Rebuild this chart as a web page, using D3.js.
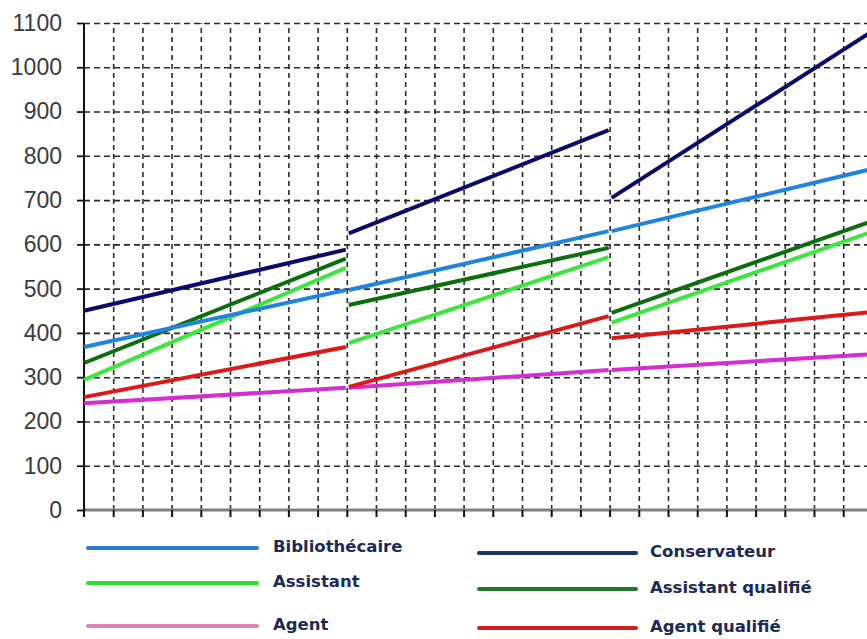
<!DOCTYPE html>
<html>
<head>
<meta charset="utf-8">
<script src="https://cdn.jsdelivr.net/npm/d3@7"></script>
<style>
  body { margin: 0; background: #fff; }
</style>
</head>
<body>
<div id="Canvas"></div>
<script>
// series names (chart order, drawn bottom to top)
const series = ["Agent", "Agent qualifié", "Assistant", "Assistant qualifié", "Bibliothécaire", "Conservateur"]
// three periods: break points on the x scale
const periods = [[0, 9], [9, 18], [18, 27]]
// value at start / end of each period, one row per series
const agentVals = [[241, 276], [276, 316], [316, 352]]
const agentQualVals = [[255, 368], [278, 438], [388, 447]]
const assistantVals = [[294, 547], [377, 571], [423, 628]]
const assistantQualVals = [[332, 568], [463, 592], [445, 652]]
const biblioVals = [[368, 497], [497, 630], [630, 770]]
const conservVals = [[450, 588], [625, 858], [705, 1080]]
const allVals = [agentVals, agentQualVals, assistantVals, assistantQualVals, biblioVals, conservVals]
const lineColors = ["#d22ed2", "#dc1818", "#3ce63c", "#0d6e10", "#1e84de", "#0b0b6a"]

// y tick labels
const yTicks = d3.range(0, 1101, 100)
const xGridTicks = d3.range(1, 28)

// legend (two columns)
const legendLeft = ["Bibliothécaire", "Assistant", "Agent"]
const legendRight = ["Conservateur", "Assistant qualifié", "Agent qualifié"]
const legendLeftColors = ["#2a7ad2", "#30dc30", "#e084b8"]
const legendRightColors = ["#1b3566", "#22782a", "#cc2020"]

let svg = d3.select("#Canvas")
    .append("svg")
    .attr("width", 867)
    .attr("height", 639)

let xScale = d3.scaleLinear()
    .domain([0, 27])
    .range([84, 872.4])
let yScale = d3.scaleLinear()
    .domain([0, 1100])
    .range([510, 23])

// 虛線格線 - horizontal
svg.append("g")
    .attr("transform", "translate(84,0)")
    .call(d3.axisLeft(yScale).tickValues(yTicks.slice(1)).tickSize(-790).tickFormat(""))
    .call(g => g.select(".domain").remove())
    .selectAll("line")
    .attr("stroke", "#2a2a2a")
    .attr("stroke-width", 1.6)
    .attr("stroke-dasharray", "6,4")

// vertical grid
svg.append("g")
    .attr("transform", "translate(0,510)")
    .call(d3.axisBottom(xScale).tickValues(xGridTicks).tickSize(-487).tickFormat(""))
    .call(g => g.select(".domain").remove())
    .selectAll("line")
    .attr("stroke", "#2a2a2a")
    .attr("stroke-width", 1.6)
    .attr("stroke-dasharray", "5,4")

// x axis line + ticks below
svg.append("line")
    .attr("x1", 84).attr("x2", 872)
    .attr("y1", 510).attr("y2", 510)
    .attr("stroke", "#808080")
    .attr("stroke-width", 3)
svg.append("g")
    .attr("transform", "translate(0,510)")
    .call(d3.axisBottom(xScale).tickValues(xGridTicks).tickSize(7).tickFormat(""))
    .call(g => g.select(".domain").remove())
    .selectAll("line")
    .attr("stroke", "#111")
    .attr("stroke-width", 2)

// y axis
let yAxis = svg.append("g")
    .attr("transform", "translate(84,0)")
    .call(d3.axisLeft(yScale).tickValues(yTicks).tickFormat(d3.format("d")).tickSize(7).tickSizeOuter(0).tickPadding(15))
yAxis.attr("font-family", "'Liberation Sans', Arial, sans-serif").attr("font-size", 23)
yAxis.select(".domain").remove()
yAxis.selectAll("line").attr("stroke", "#111").attr("stroke-width", 1.8)
yAxis.selectAll("text")
    .attr("fill", "#3a3a3a")
svg.append("line")
    .attr("x1", 84).attr("x2", 84)
    .attr("y1", 23).attr("y2", 517)
    .attr("stroke", "#111")
    .attr("stroke-width", 2)

// 每條路線 three segments
let segs = []
allVals.forEach((vals, si) => {
    vals.forEach((v, pi) => {
        segs.push({name: series[si], color: lineColors[si], x0: periods[pi][0], x1: periods[pi][1], v0: v[0], v1: v[1]})
    })
})
svg.append("g")
    .selectAll("line")
    .data(segs)
    .enter()
    .append("line")
    .attr("x1", d => xScale(d.x0) + (d.x0 > 0 ? 2 : 0))
    .attr("y1", d => yScale(d.v0))
    .attr("x2", d => xScale(d.x1) - 1)
    .attr("y2", d => yScale(d.v1))
    .attr("stroke", d => d.color)
    .attr("stroke-width", 4)
    .attr("stroke-linecap", "butt")

// legend
function drawLegend(names, colors, lx1, lx2, tx, ys) {
    let g = svg.append("g")
    g.selectAll("line")
        .data(names)
        .enter()
        .append("line")
        .attr("x1", lx1).attr("x2", lx2)
        .attr("y1", (d, i) => ys[i]).attr("y2", (d, i) => ys[i])
        .attr("stroke", (d, i) => colors[i])
        .attr("stroke-width", 4)
        .attr("stroke-linecap", "round")
    g.selectAll("text")
        .data(names)
        .enter()
        .append("text")
        .attr("x", tx)
        .attr("y", (d, i) => ys[i] - 1)
        .attr("dominant-baseline", "middle")
        .attr("fill", "#1c2a55")
        .style("font-family", "'DejaVu Sans', Verdana, sans-serif")
        .style("font-weight", "bold")
        .style("font-size", "16.5px")
        .text(d => d)
}
drawLegend(legendLeft, legendLeftColors, 88, 257, 273, [548, 583, 626])
drawLegend(legendRight, legendRightColors, 479, 636, 650, [553, 589, 628])
</script>
</body>
</html>
